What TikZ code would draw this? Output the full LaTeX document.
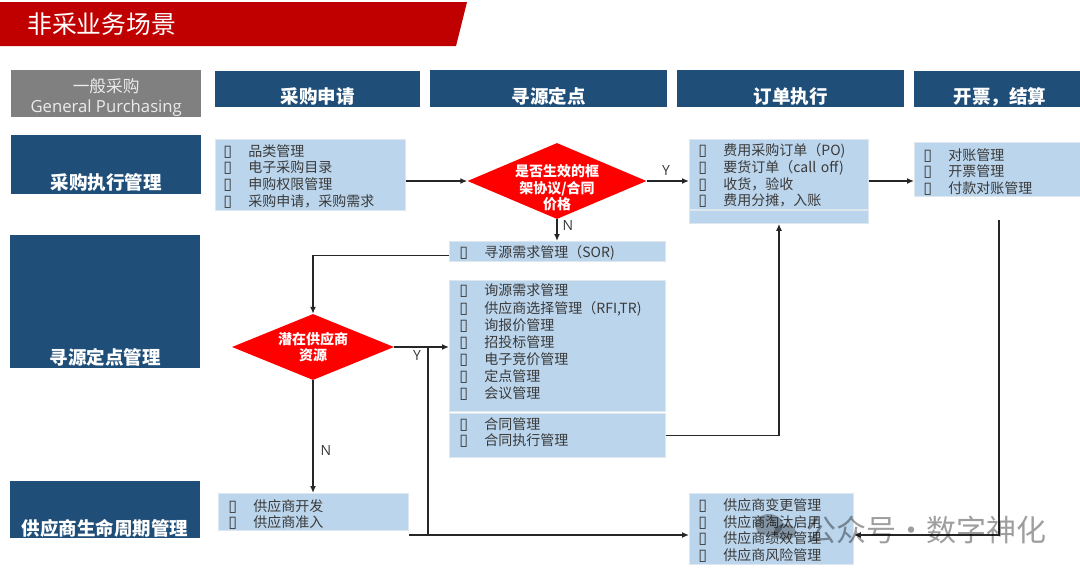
\documentclass[tikz,border=0pt]{standalone}
\usepackage{fontspec}
\setmainfont{Noto Sans CJK SC}
\newfontfamily\latinfont{Open Sans}
\newfontfamily\bulfont{DejaVu Sans}
\usepackage{xcolor}
\usetikzlibrary{positioning, arrows.meta, shapes.geometric, calc}
\definecolor{navy}{HTML}{1F4E79}
\definecolor{lstblue}{HTML}{BBD5EC}
\definecolor{edgeline}{HTML}{DEE6EE}
\definecolor{txtgray}{HTML}{3A3A3A}
\definecolor{bannerred}{HTML}{C00000}
\newcommand{\itm}[1]{\makebox[25pt][l]{\smash{\bulfont\fontsize{16}{16}\selectfont ▯}}#1}
\tikzset{
  hdr/.style={rectangle, fill=navy, inner xsep=0pt, inner ysep=0pt,
              text=white, font=\fontsize{18.5}{20}\selectfont\bfseries, align=center, anchor=north west},
  lst/.style={rectangle, fill=lstblue, draw=edgeline, line width=.8pt, inner xsep=9pt, inner ysep=0pt,
              text=txtgray, font=\fontsize{14}{16.7}\selectfont, align=left, anchor=north west},
  dn/.style={execute at begin node={\rule{0pt}{#1}}},
  dmd/.style={diamond, fill=red, inner sep=0pt},
  dmdtxt/.style={text=white, font=\fontsize{14}{16.5}\selectfont\bfseries, align=center, inner sep=0pt},
  arr/.style={-{Latex[length=7pt,width=6pt]}, line width=1.4pt, draw=black!85},
  lnk/.style={line width=1.4pt, draw=black!85},
  flag/.style={text=txtgray, font=\fontsize{14}{14}\selectfont\latinfont, inner sep=0pt},
}
\begin{document}
\begin{tikzpicture}[x=1pt, y=-1pt]
  \useasboundingbox (0,0) rectangle (1080,573);
  % banner
  \draw[fill=bannerred, draw=none] (0,2) -- (467,2) -- (456,46) -- (0,46) -- cycle;
  \node[text=white, font=\fontsize{24.8}{24.8}\selectfont, anchor=west, inner sep=0pt] (title) at (27,24) {非采业务场景};
  % top row
  \node[hdr, fill=black!50, minimum width=190, minimum height=47] (hgen) at (11,70) {};
  \node[text=white!92!black, font=\fontsize{16.7}{19.5}\selectfont, align=center, inner sep=0pt] (tgen) at ($(hgen.center)+(0,4)$) {一般采购\\{\latinfont General Purchasing}};
  \node[hdr, minimum width=205, text height=32, text depth=4] (happly) at (215,71) {采购申请};
  \node[hdr, minimum width=237, text height=33, text depth=4] (hsrc) at (430,70) {寻源定点};
  \node[hdr, minimum width=227, text height=33, text depth=4] (hord) at (677,70) {订单执行};
  \node[hdr, minimum width=172, text height=32, text depth=4] (hpay) at (914,71) {开票，结算};
  % left column
  \node[hdr, minimum width=190, text height=54, text depth=5] (sexec) at (11,135) {采购执行管理};
  \node[hdr, minimum width=190, text height=129, text depth=4] (ssrc) at (10,235) {寻源定点管理};
  \node[hdr, minimum width=190, text height=54, text depth=3] (ssup) at (10,481) {供应商生命周期管理};
  % lists
  \node[lst, minimum width=190, minimum height=71, inner xsep=8pt, text width=174, dn=14.3pt] (lapply) at (215,139) {\itm{品类管理}\\\itm{电子采购目录}\\\itm{申购权限管理}\\\itm{采购申请，采购需求}};
  \node[lst, minimum width=179, minimum height=70, text width=161, dn=14.3pt] (lord) at (689,139) {\itm{费用采购订单（PO)}\\\itm{要货订单（call off)}\\\itm{收货，验收}\\\itm{费用分摊，入账}};
  \node[lst, minimum width=179, minimum height=13] (lordx) at (689,210) {};
  \node[lst, minimum width=170, minimum height=54, text width=152, dn=16.3pt] (lpay) at (914,142) {\itm{对账管理}\\\itm{开票管理}\\\itm{付款对账管理}};
  \node[lst, minimum width=216, minimum height=20, inner xsep=10pt, text width=196, dn=15.3pt] (lsor) at (449,241) {\itm{寻源需求管理（SOR)}};
  \node[lst, minimum width=216, minimum height=131, inner xsep=10pt, text width=196, font=\fontsize{14}{17.1}\selectfont] (lquo) at (449,280) {\itm{询源需求管理}\\\itm{供应商选择管理（RFI,TR)}\\\itm{询报价管理}\\\itm{招投标管理}\\\itm{电子竞价管理}\\\itm{定点管理}\\\itm{会议管理}\\[-8pt]\mbox{}};
  \node[lst, minimum width=216, minimum height=44, inner xsep=10pt, text width=196] (lcon) at (449,413) {\itm{合同管理}\\\itm{合同执行管理}\\[-9pt]\mbox{}};
  \node[lst, minimum width=190, minimum height=37, inner xsep=10pt, text width=170, dn=16.3pt] (ldev) at (218,493) {\itm{供应商开发}\\\itm{供应商准入}};
  \node[lst, minimum width=164, minimum height=71, text width=146, dn=14.3pt] (lrisk) at (689,493) {\itm{供应商变更管理}\\\itm{供应商淘汰启用}\\\itm{供应商绩效管理}\\\itm{供应商风险管理}};
  % decisions
  \node[dmd, minimum width=179, minimum height=76] (dframe) at (557,181) {};
  \node[dmdtxt] (tframe) at ($(dframe)+(0,7)$) {是否生效的框\\架协议/合同\\价格};
  \node[dmd, minimum width=162, minimum height=66] (dsup) at (313,347) {};
  \node[dmdtxt] (tsup) at (dsup) {潜在供应商\\资源};
  % connector ends
  \coordinate (jtop) at (428,347);
  \coordinate (jbot) at (428,535);
  \coordinate (jleft) at (409,535);
  \coordinate (ptop) at (999,220);
  \coordinate (pbot) at (999,535);
  % connectors
  \draw[arr] (lapply.east |- dframe) -- (dframe.west);
  \draw[arr] (dframe.east) -- (lord.west |- dframe);
  \draw[arr] (lord.east |- dframe) -- (lpay.west |- dframe);
  \draw[arr] (dframe.south) -- (lsor.north -| dframe);
  \draw[arr] ($(lsor.west)+(0,4)$) -| (dsup.north);
  \draw[arr] (dsup.east) -- (lquo.west |- dsup);
  \draw[arr] (dsup.south) -- (ldev.north -| dsup);
  \draw[lnk] (jtop) -- (jbot);
  \draw[arr] (jleft) -- (lrisk.west |- jleft);
  \draw[arr] (lcon.east) -| (lordx.south -| 779,0);
  \draw[arr] (ptop) -- (pbot) -- (lrisk.east |- pbot);
  % branch labels
  \node[flag] (fy1) at (666,170) {Y};
  \node[flag] (fn1) at (568,226) {N};
  \node[flag] (fy2) at (417,355) {Y};
  \node[flag] (fn2) at (326,450) {N};
  % watermark
  \fill[black, opacity=.3] (769,525) ellipse (14 and 11);
  \fill[black, opacity=.3] (785,532) ellipse (11 and 8);
  \node[text=black, opacity=.38, font=\fontsize{30}{30}\selectfont, anchor=west, inner sep=0pt] (mark) at (806,530) {公众号·数字神化};
\end{tikzpicture}
\end{document}
